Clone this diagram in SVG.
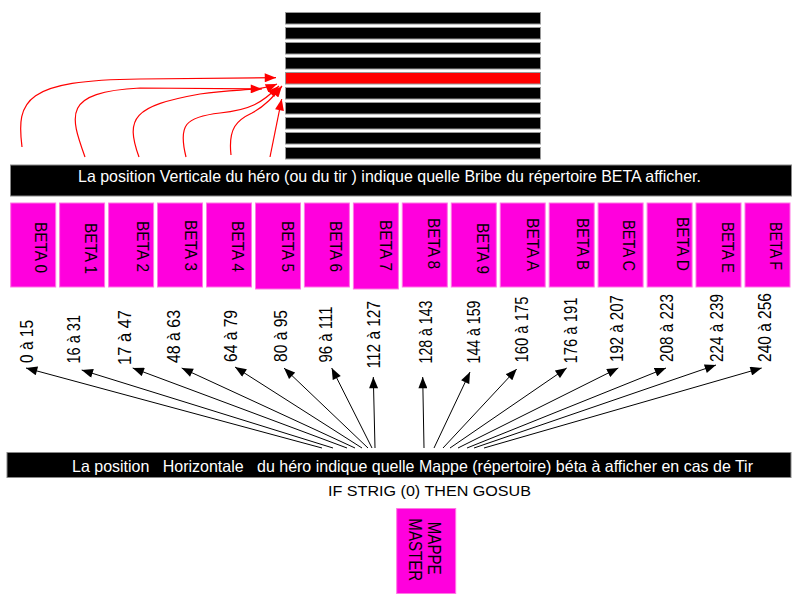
<svg xmlns="http://www.w3.org/2000/svg" width="800" height="600" viewBox="0 0 800 600">
<style>
text{font-family:"Liberation Sans",Arial,sans-serif;fill:#000}
.stripe{fill:#000;stroke:#999;stroke-width:1}
.bar{fill:#000;stroke:#888;stroke-width:1}
.bartxt{fill:#fff;font-size:16.5px}
.box{fill:#ff00dd;stroke:#ff77e4;stroke-width:1}
.beta{font-size:17px}
.lbl{font-size:18px}
.red{fill:none;stroke:#ff0000;stroke-width:1.2}
.blk{fill:none;stroke:#000;stroke-width:1}
</style>
<defs>
<marker id="ah" viewBox="0 0 10 8" refX="10" refY="4" markerWidth="12" markerHeight="9" markerUnits="userSpaceOnUse" orient="auto">
<path d="M0,0 L10,4 L0,8 Z" fill="#000"/>
</marker>
<marker id="rh" viewBox="0 0 10 8" refX="10" refY="4" markerWidth="12" markerHeight="9" markerUnits="userSpaceOnUse" orient="auto">
<path d="M0,0 L10,4 L0,8 Z" fill="#ff0000"/>
</marker>
</defs>
<rect width="800" height="600" fill="#fff"/>

<g id="stripes">
<rect class="stripe" x="285.5" y="12.5" width="255" height="11.5"/>
<rect class="stripe" x="285.5" y="27.5" width="255" height="11.5"/>
<rect class="stripe" x="285.5" y="42.5" width="255" height="11.5"/>
<rect class="stripe" x="285.5" y="57.5" width="255" height="11.5"/>
<rect class="stripe" x="285.5" y="72.5" width="255" height="11.5" style="fill:#ff0000"/>
<rect class="stripe" x="285.5" y="87.5" width="255" height="11.5"/>
<rect class="stripe" x="285.5" y="102.5" width="255" height="11.5"/>
<rect class="stripe" x="285.5" y="117.5" width="255" height="11.5"/>
<rect class="stripe" x="285.5" y="132.5" width="255" height="11.5"/>
<rect class="stripe" x="285.5" y="147.5" width="255" height="11.5"/>
</g>

<g id="vertical-bar">
<rect class="bar" x="10.5" y="165" width="781" height="31"/>
<text class="bartxt" x="78" y="181.7" textLength="623" lengthAdjust="spacingAndGlyphs">La position Verticale du héro (ou du tir ) indique quelle Bribe du répertoire BETA afficher.</text>
</g>

<g id="beta-boxes">
<g id="beta0"><rect class="box" x="10.7" y="203" width="45" height="84"/><text class="beta" transform="translate(35,222) rotate(90)" textLength="51" lengthAdjust="spacingAndGlyphs">BETA 0</text></g>
<g id="beta1"><rect class="box" x="59.6" y="203" width="45" height="84"/><text class="beta" transform="translate(85,223) rotate(90)" textLength="51" lengthAdjust="spacingAndGlyphs">BETA 1</text></g>
<g id="beta2"><rect class="box" x="108.6" y="203" width="45" height="84"/><text class="beta" transform="translate(136.7,221) rotate(90)" textLength="51" lengthAdjust="spacingAndGlyphs">BETA 2</text></g>
<g id="beta3"><rect class="box" x="157.5" y="203" width="45" height="84"/><text class="beta" transform="translate(185,220) rotate(90)" textLength="51" lengthAdjust="spacingAndGlyphs">BETA 3</text></g>
<g id="beta4"><rect class="box" x="206.5" y="203" width="45" height="84"/><text class="beta" transform="translate(231.7,221) rotate(90)" textLength="51" lengthAdjust="spacingAndGlyphs">BETA 4</text></g>
<g id="beta5"><rect class="box" x="255.5" y="203" width="45" height="86"/><text class="beta" transform="translate(281.7,221) rotate(90)" textLength="51" lengthAdjust="spacingAndGlyphs">BETA 5</text></g>
<g id="beta6"><rect class="box" x="304.4" y="203" width="45" height="84"/><text class="beta" transform="translate(330,221) rotate(90)" textLength="51" lengthAdjust="spacingAndGlyphs">BETA 6</text></g>
<g id="beta7"><rect class="box" x="353.4" y="203" width="45" height="86"/><text class="beta" transform="translate(380,220) rotate(90)" textLength="51" lengthAdjust="spacingAndGlyphs">BETA 7</text></g>
<g id="beta8"><rect class="box" x="402.3" y="203" width="45" height="84"/><text class="beta" transform="translate(428.3,218) rotate(90)" textLength="51" lengthAdjust="spacingAndGlyphs">BETA 8</text></g>
<g id="beta9"><rect class="box" x="451.3" y="203" width="45" height="84"/><text class="beta" transform="translate(476.7,223) rotate(90)" textLength="51" lengthAdjust="spacingAndGlyphs">BETA 9</text></g>
<g id="betaA"><rect class="box" x="500.2" y="203" width="45" height="84"/><text class="beta" transform="translate(526.7,218) rotate(90)" textLength="53" lengthAdjust="spacingAndGlyphs">BETA A</text></g>
<g id="betaB"><rect class="box" x="549.2" y="203" width="45" height="84"/><text class="beta" transform="translate(576.7,218) rotate(90)" textLength="52" lengthAdjust="spacingAndGlyphs">BETA B</text></g>
<g id="betaC"><rect class="box" x="598.1" y="203" width="45" height="84"/><text class="beta" transform="translate(623.3,220) rotate(90)" textLength="51" lengthAdjust="spacingAndGlyphs">BETA C</text></g>
<g id="betaD"><rect class="box" x="647.1" y="203" width="45" height="84"/><text class="beta" transform="translate(676.7,217) rotate(90)" textLength="54" lengthAdjust="spacingAndGlyphs">BETA D</text></g>
<g id="betaE"><rect class="box" x="696" y="203" width="45" height="84"/><text class="beta" transform="translate(721.7,222) rotate(90)" textLength="51" lengthAdjust="spacingAndGlyphs">BETA E</text></g>
<g id="betaF"><rect class="box" x="745" y="203" width="45" height="84"/><text class="beta" transform="translate(770,222) rotate(90)" textLength="48" lengthAdjust="spacingAndGlyphs">BETA F</text></g>
</g>

<g id="range-labels" xml:space="preserve">
<text class="lbl" transform="translate(32.7,363) rotate(-90)" textLength="43" lengthAdjust="spacingAndGlyphs">0 à 15</text>
<text class="lbl" transform="translate(80,363.5) rotate(-90)" textLength="48.5" lengthAdjust="spacingAndGlyphs">16 à 31</text>
<text class="lbl" transform="translate(130.7,365) rotate(-90)" textLength="55" lengthAdjust="spacingAndGlyphs">17 à  47</text>
<text class="lbl" transform="translate(180,363) rotate(-90)" textLength="53" lengthAdjust="spacingAndGlyphs">48 à 63</text>
<text class="lbl" transform="translate(236.7,362) rotate(-90)" textLength="52" lengthAdjust="spacingAndGlyphs">64 à 79</text>
<text class="lbl" transform="translate(286.7,362) rotate(-90)" textLength="52" lengthAdjust="spacingAndGlyphs">80 à 95</text>
<text class="lbl" transform="translate(331.7,362.5) rotate(-90)" textLength="56" lengthAdjust="spacingAndGlyphs">96 à 111</text>
<text class="lbl" transform="translate(380,368.5) rotate(-90)" textLength="67.5" lengthAdjust="spacingAndGlyphs">112 à 127</text>
<text class="lbl" transform="translate(431.7,363.5) rotate(-90)" textLength="63" lengthAdjust="spacingAndGlyphs">128 à 143</text>
<text class="lbl" transform="translate(480,363.5) rotate(-90)" textLength="63" lengthAdjust="spacingAndGlyphs">144 à 159</text>
<text class="lbl" transform="translate(528.3,362.5) rotate(-90)" textLength="66" lengthAdjust="spacingAndGlyphs">160 à 175</text>
<text class="lbl" transform="translate(576.7,363.5) rotate(-90)" textLength="66" lengthAdjust="spacingAndGlyphs">176 à 191</text>
<text class="lbl" transform="translate(623.3,362) rotate(-90)" textLength="67" lengthAdjust="spacingAndGlyphs">192 à 207</text>
<text class="lbl" transform="translate(673.3,362) rotate(-90)" textLength="68" lengthAdjust="spacingAndGlyphs">208 à 223</text>
<text class="lbl" transform="translate(722.7,362) rotate(-90)" textLength="68" lengthAdjust="spacingAndGlyphs">224 à 239</text>
<text class="lbl" transform="translate(770.7,362) rotate(-90)" textLength="69" lengthAdjust="spacingAndGlyphs">240 à 256</text>
</g>

<g id="connectors">
<g id="red-arrows">
<path class="red" marker-end="url(#rh)" d="M22,147 C16,100 25,80 140,79 L276,77.7"/>
<path class="red" marker-end="url(#rh)" d="M85,157 C70,115 62,92 140,88 L262,89"/>
<path class="red" marker-end="url(#rh)" d="M139,157 C125,118 133,106 200,94 C240,88 258,92 277,84"/>
<path class="red" marker-end="url(#rh)" d="M186,157 C178,125 185,117 220,113 C250,110 262,103 279,86"/>
<path class="red" marker-end="url(#rh)" d="M231,155 C228,128 237,120 252,113 C265,106 273,97 282,86"/>
<path class="red" marker-end="url(#rh)" d="M270,157 L281.7,99"/>
</g>
<g id="black-arrows">
<line class="blk" marker-end="url(#ah)" x1="322" y1="448" x2="26" y2="368"/>
<line class="blk" marker-end="url(#ah)" x1="333" y1="448" x2="81.7" y2="370"/>
<line class="blk" marker-end="url(#ah)" x1="347" y1="448" x2="132.7" y2="368"/>
<line class="blk" marker-end="url(#ah)" x1="355" y1="448" x2="181.7" y2="368"/>
<line class="blk" marker-end="url(#ah)" x1="362" y1="448" x2="235" y2="367"/>
<line class="blk" marker-end="url(#ah)" x1="368" y1="448" x2="284" y2="368"/>
<line class="blk" marker-end="url(#ah)" x1="372" y1="448" x2="331.7" y2="368"/>
<line class="blk" marker-end="url(#ah)" x1="375" y1="448" x2="373.3" y2="377"/>
<line class="blk" marker-end="url(#ah)" x1="424" y1="448" x2="422.7" y2="377"/>
<line class="blk" marker-end="url(#ah)" x1="434" y1="448" x2="470" y2="372"/>
<line class="blk" marker-end="url(#ah)" x1="443" y1="448" x2="516.7" y2="369"/>
<line class="blk" marker-end="url(#ah)" x1="450" y1="448" x2="566.7" y2="368"/>
<line class="blk" marker-end="url(#ah)" x1="458" y1="448" x2="618.3" y2="368"/>
<line class="blk" marker-end="url(#ah)" x1="467" y1="448" x2="666" y2="368"/>
<line class="blk" marker-end="url(#ah)" x1="474" y1="448" x2="716" y2="365"/>
<line class="blk" marker-end="url(#ah)" x1="484" y1="448" x2="761.7" y2="368"/>
</g>
</g>

<g id="horizontal-bar">
<rect class="bar" x="7" y="452.5" width="784" height="25"/>
<text class="bartxt" x="72" y="471.7" textLength="681" lengthAdjust="spacingAndGlyphs" xml:space="preserve">La position   Horizontale   du héro indique quelle Mappe (répertoire) béta à afficher en cas de Tir</text>
</g>

<g id="strig-label">
<text x="328" y="495.5" style="font-size:15px" textLength="203" lengthAdjust="spacingAndGlyphs">IF STRIG (0) THEN GOSUB</text>
</g>

<g id="mappe-master">
<rect class="box" x="396.7" y="508.5" width="59" height="85"/>
<text class="lbl" transform="translate(428.3,521.7) rotate(90)" textLength="53" lengthAdjust="spacingAndGlyphs">MAPPE</text>
<text class="lbl" transform="translate(409.3,518.3) rotate(90)" textLength="63" lengthAdjust="spacingAndGlyphs">MASTER</text>
</g>
</svg>
